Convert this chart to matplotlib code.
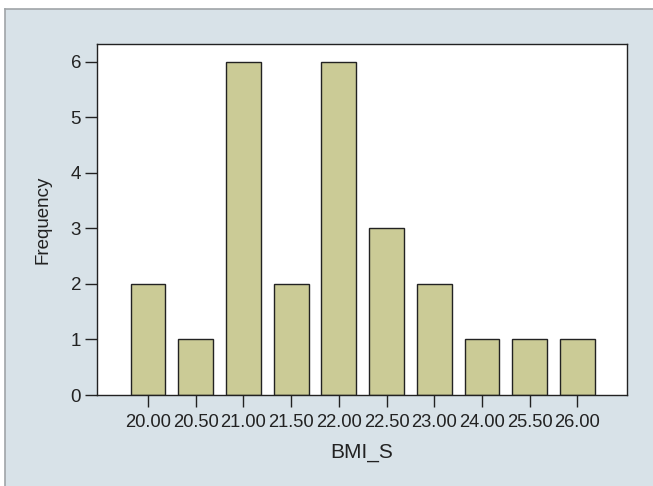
import matplotlib.pyplot as plt
from matplotlib.patches import Rectangle
from matplotlib.lines import Line2D
import numpy as np

# BMI_S histogram (frequency per value)
bmi_labels = ['20.00', '20.50', '21.00', '21.50', '22.00',
              '22.50', '23.00', '24.00', '25.50', '26.00']
frequency = [2, 1, 6, 2, 6, 3, 2, 1, 1, 1]

plt.rcParams['font.family'] = ['Liberation Sans', 'DejaVu Sans']

W, H = 653, 486
fig = plt.figure(figsize=(W / 100, H / 100), dpi=100)
fig.patch.set_facecolor('white')

# light blue-grey panel behind the chart
x0, y1 = 5 / W, 1 - 9 / H
fig.add_artist(Rectangle((x0, 0), 1 - x0, y1, transform=fig.transFigure,
                         facecolor='#d8e2e8', edgecolor='none', zorder=-10))
fig.add_artist(Line2D([x0, x0], [0, y1], transform=fig.transFigure,
                      color='#a0a4a8', lw=1.2, zorder=-9))
fig.add_artist(Line2D([x0, 1], [y1, y1], transform=fig.transFigure,
                      color='#a0a4a8', lw=1.2, zorder=-9))

ax = fig.add_axes([97 / W, 1 - 395 / H, 530 / W, 351 / H])
ax.set_facecolor('white')

x = np.arange(len(bmi_labels))
ax.bar(x, frequency, width=0.73, color='#cbcb96', edgecolor='#222222',
       linewidth=1.0, zorder=2)

ax.set_xlim(-1.07, len(bmi_labels) - 1 + 1.04)
ax.set_ylim(0, 6.32)
ax.set_yticks(range(0, 7))
ax.set_xticks(x)
ax.set_xticklabels(bmi_labels)

for s in ax.spines.values():
    s.set_color('#222222')
    s.set_linewidth(1.0)

ax.tick_params(axis='both', direction='out', length=8.5, width=1.0,
               color='#222222', labelcolor='#222222')
ax.tick_params(axis='x', labelsize=13.2, pad=5)
ax.tick_params(axis='y', labelsize=13.5, pad=3)

ax.set_xlabel('BMI_S', fontsize=15, color='#222222')
ax.set_ylabel('Frequency', fontsize=13.5, color='#222222')
ax.xaxis.set_label_coords(0.5, -(452 - 395) / 351)
ax.yaxis.set_label_coords(-(97 - 43) / 530, 0.5)
ax.xaxis.label.set_va('center')
ax.yaxis.label.set_va('center')

fig.savefig('out.png', dpi=100)
